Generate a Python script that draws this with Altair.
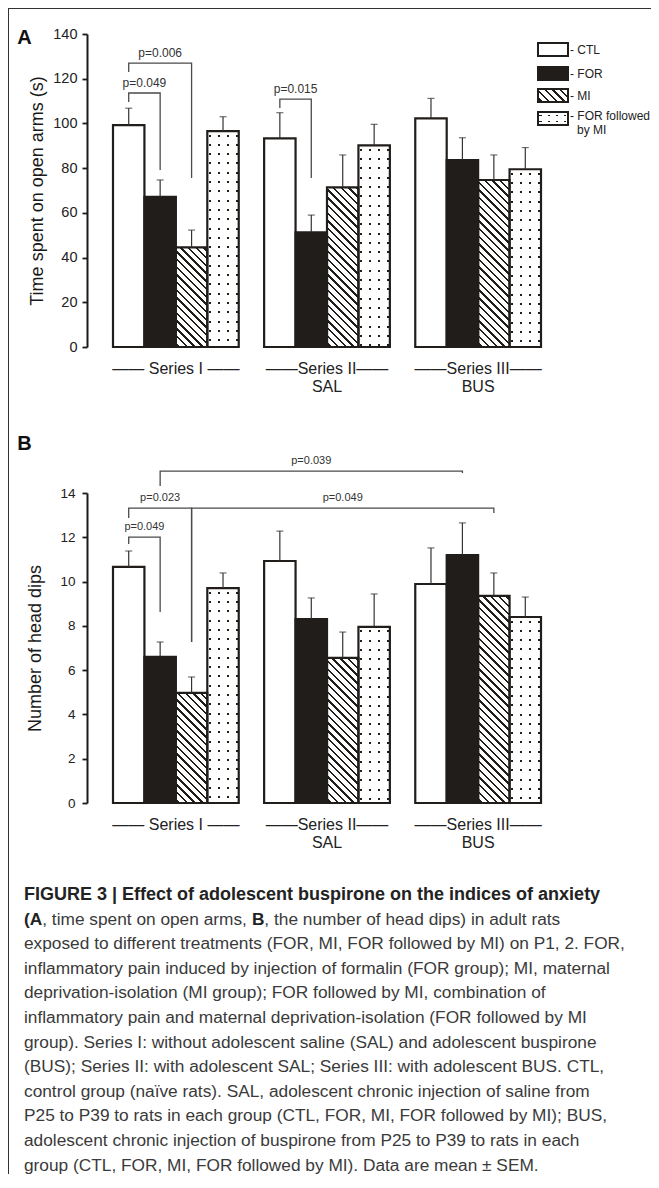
import altair as alt

# ---------------- data ----------------
SERIES = ["I", "II", "III"]
GROUPS = ["CTL", "FOR", "MI", "FOR followed by MI"]
SERIES_LINE1 = ["\u2014\u2014 Series I \u2014\u2014", "\u2014\u2014Series II\u2014\u2014",
                "\u2014\u2014Series III\u2014\u2014"]
SERIES_LINE2 = ["", "SAL", "BUS"]

# Panel A: time spent on open arms (s), mean and SEM per series (CTL, FOR, MI, FOR followed by MI)
A_MEAN_I = [99.2, 67.2, 44.6, 96.6]
A_MEAN_II = [93.3, 51.3, 71.4, 90.2]
A_MEAN_III = [102.3, 83.6, 74.7, 79.5]
A_SEM_I = [7.6, 7.5, 7.7, 6.4]
A_SEM_II = [11.5, 7.7, 14.5, 9.4]
A_SEM_III = [8.9, 10.0, 11.2, 9.7]

# Panel B: number of head dips
B_MEAN_I = [10.66, 6.60, 4.97, 9.70]
B_MEAN_II = [10.93, 8.31, 6.55, 7.95]
B_MEAN_III = [9.89, 11.20, 9.35, 8.40]
B_SEM_I = [0.72, 0.67, 0.72, 0.69]
B_SEM_II = [1.35, 0.95, 1.17, 1.49]
B_SEM_III = [1.63, 1.45, 1.04, 0.90]

# significance brackets: label, left (series, group), right (series, group), bar level, left leg end, right leg end
A_BRACKETS = [
    ("p=0.049", "I", "CTL", "I", "FOR", 113.6, 109.6, 79.2),
    ("p=0.006", "I", "CTL", "I", "MI", 127.0, 123.0, 75.6),
    ("p=0.015", "II", "CTL", "II", "FOR", 110.9, 106.9, 75.6),
]
B_BRACKETS = [
    ("p=0.049", "I", "CTL", "I", "FOR", 12.01, 11.70, 8.63),
    ("p=0.023", "I", "CTL", "I", "MI", 13.32, 12.87, 7.27),
    ("p=0.039", "I", "FOR", "III", "FOR", 14.99, 14.32, 14.90),
    ("p=0.049", "I", "MI", "III", "MI", 13.32, 7.27, 13.10),
]

A_TICKS = [0, 20, 40, 60, 80, 100, 120, 140]
B_TICKS = [0, 2, 4, 6, 8, 10, 12, 14]
LEGEND_LABELS = ["- CTL", "- FOR", "- MI", "- FOR followed"]
LEGEND_EXTRA = "by MI"

CAPTION_TITLE = "FIGURE 3 | Effect of adolescent buspirone on the indices of anxiety"
CAPTION_LINE2 = [("(A", True), (", time spent on open arms, ", False), ("B", True),
                 (", the number of head dips) in adult rats", False)]
CAPTION_LINES = [
    "exposed to different treatments (FOR, MI, FOR followed by MI) on P1, 2. FOR,",
    "inflammatory pain induced by injection of formalin (FOR group); MI, maternal",
    "deprivation-isolation (MI group); FOR followed by MI, combination of",
    "inflammatory pain and maternal deprivation-isolation (FOR followed by MI",
    "group). Series I: without adolescent saline (SAL) and adolescent buspirone",
    "(BUS); Series II: with adolescent SAL; Series III: with adolescent BUS. CTL,",
    "control group (na\u00efve rats). SAL, adolescent chronic injection of saline from",
    "P25 to P39 to rats in each group (CTL, FOR, MI, FOR followed by MI); BUS,",
    "adolescent chronic injection of buspirone from P25 to P39 to rats in each",
    "group (CTL, FOR, MI, FOR followed by MI). Data are mean \u00b1 SEM.",
]

# ---------------- layout / style (chart pixels; page = chart + 8) ----------------
FONT = "Liberation Sans"
INK = "#211d1b"
CW, CH = 643, 1166
X0, X1 = 79, 559
P_IN, P_OUT = 0.168, 0.172
STEP = (X1 - X0) / (3 - P_IN + 2 * P_OUT)
BAR_W = STEP * (1 - P_IN) / 4
CLEAR = "rgba(255,255,255,0)"
A_RANGE = [339, 26]
B_RANGE = [795, 485]


def _stops(bands, total, base, ink):
    st = [{"offset": 0, "color": base}]
    for a, b in bands:
        a = max(0.0, min(1.0, a / total))
        b = max(0.0, min(1.0, b / total))
        st += [{"offset": round(a, 5), "color": base}, {"offset": round(a, 5), "color": ink},
               {"offset": round(b, 5), "color": ink}, {"offset": round(b, 5), "color": base}]
    st.append({"offset": 1, "color": base})
    return st


def hatch(w, h, period=7.7, thick=2.4):
    d_total = w + h
    k = d_total * w / (w * w + h * h)
    bands = []
    c = period / 2
    while c - thick / 2 < d_total:
        bands.append((c - thick / 2, c + thick / 2))
        c += period
    return {"gradient": "linear", "x1": 0, "y1": 1, "x2": round(k, 5), "y2": round(1 - k * h / w, 5),
            "stops": _stops(bands, d_total, "white", INK)}


def vstripes(w, first=2.2, period=9.0, thick=2.0):
    bands = []
    c = first
    while c < w:
        bands.append((c - thick / 2, c + thick / 2))
        c += period
    return {"gradient": "linear", "x1": 0, "y1": 0, "x2": 1, "y2": 0,
            "stops": _stops(bands, w, "white", INK)}


def rows(h, first=4.5, period=9.3, thick=2.0):
    bands = []
    c = first
    while c < h:
        bands.append((c - thick / 2, c + thick / 2))
        c += period
    return {"gradient": "linear", "x1": 0, "y1": 0, "x2": 0, "y2": 1,
            "stops": _stops(bands, h, "white", CLEAR)}


def fills(group, h_px, w_px):
    if group == "CTL":
        return "white", CLEAR
    if group == "FOR":
        return INK, CLEAR
    if group == "MI":
        return hatch(w_px, h_px), CLEAR
    return vstripes(w_px), rows(h_px)


def X():
    return alt.X("series:N", axis=None,
                 scale=alt.Scale(domain=SERIES, range=[X0, X1], paddingInner=P_IN, paddingOuter=P_OUT))


def XO():
    return alt.XOffset("group:N", scale=alt.Scale(domain=GROUPS, paddingInner=0, paddingOuter=0))


def one_row():
    return alt.Data(values=[{"k": 0}])


def txt(x, y, text, size, weight="normal", color="#222", align="left"):
    return alt.Chart(one_row()).mark_text(font=FONT, fontSize=size, fontWeight=weight, color=color,
                                          align=align, baseline="middle").encode(
        x=alt.value(x), y=alt.value(y), text=alt.value(text))


def panel(means, sems, brackets, yrange, ymax, ticks, ytitle, tick_font, lab_pad, title_pad,
          letter, letter_y, p_font, lab_y):
    px = abs(yrange[0] - yrange[1]) / ymax
    yscale = alt.Scale(domain=[0, ymax], range=yrange, nice=False, zero=True)
    yaxis = alt.Axis(values=ticks, title=ytitle, orient="left", offset=-X0, grid=False,
                     labelFont=FONT, labelFontSize=tick_font, labelColor="#222",
                     labelPadding=lab_pad, tickSize=5, tickWidth=1.8, tickColor="#1a1a1a",
                     domainColor="#1a1a1a", domainWidth=2, titleFont=FONT, titleFontSize=18,
                     titleFontWeight="normal", titleColor="#1a1a1a", titlePadding=title_pad)

    def Y(f, axis=None):
        return alt.Y(f"{f}:Q", scale=yscale, axis=axis)

    recs = []
    for si, s in enumerate(SERIES):
        for gi, g in enumerate(GROUPS):
            m, e = means[si][gi], sems[si][gi]
            f1, f2 = fills(g, m * px, BAR_W)
            recs.append({"series": s, "group": g, "mean": m, "top": m + e, "fill": f1, "over": f2})
    data = alt.Data(values=recs)

    base = alt.Chart(data).mark_bar(strokeWidth=0).encode(
        x=X(), xOffset=XO(), y=Y("mean", yaxis), fill=alt.Fill("fill:N", scale=None, legend=None))
    over = alt.Chart(data).mark_bar(strokeWidth=0).encode(
        x=X(), xOffset=XO(), y=Y("mean"), fill=alt.Fill("over:N", scale=None, legend=None)
    ).transform_filter(alt.datum.group == "FOR followed by MI")
    outline = alt.Chart(data).mark_bar(fill="transparent", stroke=INK, strokeWidth=2.2).encode(
        x=X(), xOffset=XO(), y=Y("mean"))
    err = alt.Chart(data).mark_rule(color="#333", strokeWidth=1.2).encode(
        x=X(), xOffset=XO(), y=Y("mean"), y2="top:Q")
    cap = alt.Chart(data).mark_tick(color="#333", thickness=1.2, size=7, orient="horizontal").encode(
        x=X(), xOffset=XO(), y=Y("top"))

    brecs, lrecs = [], []
    for bi, (lab, s1, g1, s2, g2, lvl, low1, low2) in enumerate(brackets):
        pts = [(s1, g1, low1), (s1, g1, lvl), (s2, g2, lvl), (s2, g2, low2)]
        for oi, (s, g, yv) in enumerate(pts):
            brecs.append({"bid": bi, "ord": oi, "series": s, "group": g, "y": yv})
        i1 = SERIES.index(s1) * 4 + GROUPS.index(g1)
        i2 = SERIES.index(s2) * 4 + GROUPS.index(g2)
        mid = (i1 + i2) / 2
        anchor = int(mid)
        lrecs.append({"text": lab, "series": SERIES[anchor // 4], "group": GROUPS[anchor % 4],
                      "y": lvl, "half": 1 if mid > anchor else 0})
    blines = alt.Chart(alt.Data(values=brecs)).mark_line(color="#4a4a4a", strokeWidth=1.3).encode(
        x=X(), xOffset=XO(), y=Y("y"), detail="bid:N", order="ord:Q")
    ldata = alt.Data(values=lrecs)
    labs0 = alt.Chart(ldata).mark_text(font=FONT, fontSize=p_font, color="#333", dy=-10.5,
                                       baseline="middle").encode(
        x=X(), xOffset=XO(), y=Y("y"), text="text:N").transform_filter(alt.datum.half == 0)
    labs1 = alt.Chart(ldata).mark_text(font=FONT, fontSize=p_font, color="#333", dy=-10.5,
                                       dx=BAR_W / 2, baseline="middle").encode(
        x=X(), xOffset=XO(), y=Y("y"), text="text:N").transform_filter(alt.datum.half == 1)

    sdata = alt.Data(values=[{"series": s, "l1": a, "l2": b}
                             for s, a, b in zip(SERIES, SERIES_LINE1, SERIES_LINE2)])
    slab1 = alt.Chart(sdata).mark_text(font=FONT, fontSize=16, color="#222", baseline="middle").encode(
        x=X(), y=alt.value(lab_y), text="l1:N")
    slab2 = alt.Chart(sdata).mark_text(font=FONT, fontSize=16, color="#222", baseline="middle").encode(
        x=X(), y=alt.value(lab_y + 18), text="l2:N")

    letter_mark = txt(16.5, letter_y, letter, 20, weight="bold", color="#111", align="center")

    return [base, over, outline, err, cap, blines, labs0, labs1, slab1, slab2, letter_mark]


# ---------------- panel A ----------------
layers_a = panel([A_MEAN_I, A_MEAN_II, A_MEAN_III], [A_SEM_I, A_SEM_II, A_SEM_III], A_BRACKETS,
                 A_RANGE, 140, A_TICKS, "Time spent on open arms (s)", 14.5, 5, 6, "A", 29.5, 12, 361)

LEG_X0, LEG_W, LEG_H = 530, 30, 13
LEG_TOPS = [35, 59, 81, 104]
LEG_TEXT_Y = [41.5, 65.5, 87.5, 108.0]
legend_layers = []
for i, lab in enumerate(LEGEND_LABELS):
    g = GROUPS[i]
    f1, f2 = fills(g, LEG_H, LEG_W)
    if g == "FOR followed by MI":
        f1, f2 = vstripes(LEG_W, first=2.5, period=8.3), rows(LEG_H, first=3.5, period=6.0)
    enc = dict(x=alt.value(LEG_X0), x2=alt.value(LEG_X0 + LEG_W), y=alt.value(LEG_TOPS[i]),
               y2=alt.value(LEG_TOPS[i] + LEG_H))
    legend_layers.append(alt.Chart(one_row()).mark_rect(fill=f1, strokeWidth=0).encode(**enc))
    if g == "FOR followed by MI":
        legend_layers.append(alt.Chart(one_row()).mark_rect(fill=f2, strokeWidth=0).encode(**enc))
    legend_layers.append(alt.Chart(one_row()).mark_rect(fill="transparent", stroke=INK,
                                                        strokeWidth=2).encode(**enc))
    legend_layers.append(txt(562, LEG_TEXT_Y[i], lab, 12))
legend_layers.append(txt(569, LEG_TEXT_Y[3] + 14, LEGEND_EXTRA, 12))

frame_left = alt.Chart(one_row()).mark_rule(color="#333", strokeWidth=1).encode(
    x=alt.value(0.5), y=alt.value(0), y2=alt.value(CH))
frame_top = alt.Chart(one_row()).mark_rule(color="#333", strokeWidth=1).encode(
    x=alt.value(0), x2=alt.value(CW), y=alt.value(0.5))

# ---------------- panel B ----------------
layers_b = panel([B_MEAN_I, B_MEAN_II, B_MEAN_III], [B_SEM_I, B_SEM_II, B_SEM_III], B_BRACKETS,
                 B_RANGE, 14, B_TICKS, "Number of head dips", 13.5, 7, 15, "B", 435.5, 11, 817)

# ---------------- caption ----------------
CAP_X = 16
CAP_Y0 = 887
CAP_DY = 24.6
CAP_FS = 17.3
REG_W = {",": .278, " ": .278, "t": .278, "i": .222, "m": .833, "e": .556, "s": .5, "p": .556,
         "n": .556, "o": .556, "a": .556, "r": .333}
BOLD_W = {"(": .333, "A": .722, "B": .722}

caption_layers = [txt(CAP_X, CAP_Y0, CAPTION_TITLE, 18, weight="bold", color="#222")]
xpos = CAP_X
for seg, bold in CAPTION_LINE2:
    caption_layers.append(txt(xpos, CAP_Y0 + CAP_DY, seg, CAP_FS, weight="bold" if bold else "normal",
                              color="#222" if bold else "#3a3a3a"))
    table = BOLD_W if bold else REG_W
    xpos += sum(table.get(ch, .556) for ch in seg) * CAP_FS
for i, line in enumerate(CAPTION_LINES):
    caption_layers.append(txt(CAP_X, CAP_Y0 + CAP_DY * (i + 2), line, CAP_FS, color="#3a3a3a"))

chart = alt.layer(
    *layers_a, *layers_b, *legend_layers, *caption_layers, frame_left, frame_top
).resolve_scale(y="independent").properties(
    width=CW, height=CH, padding=0, autosize=alt.AutoSizeParams(type="none")
).configure_view(strokeWidth=0).configure(font=FONT)

chart.save("out.html", embed_options={"renderer": "svg", "actions": False})
